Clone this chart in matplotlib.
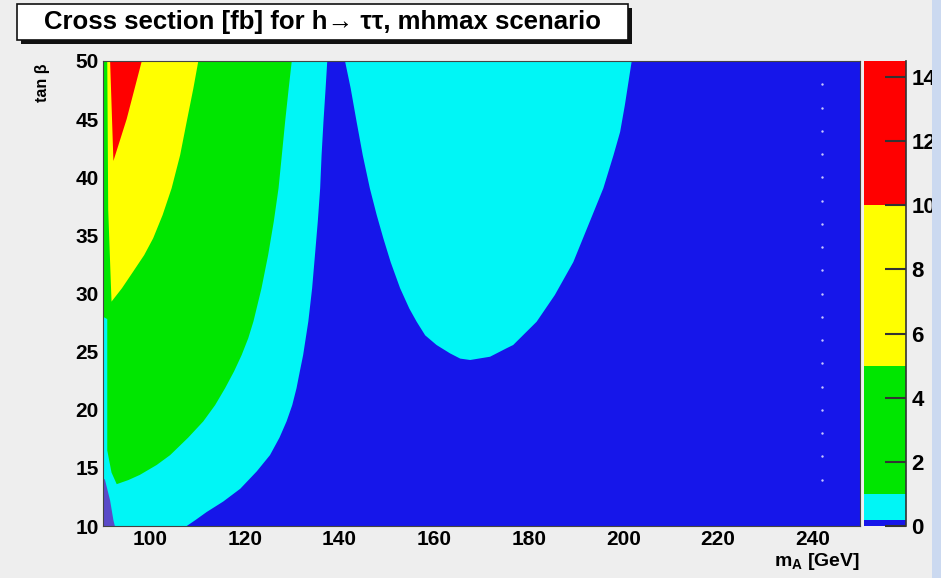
import matplotlib
matplotlib.use("Agg")
import matplotlib.pyplot as plt
from matplotlib.colors import ListedColormap, BoundaryNorm
from matplotlib.cm import ScalarMappable
from matplotlib.patches import Rectangle

plt.rcParams['font.family'] = ['Liberation Sans', 'DejaVu Sans']
plt.rcParams['font.weight'] = 'bold'
plt.rcParams['mathtext.fontset'] = 'custom'
plt.rcParams['mathtext.rm'] = 'Liberation Sans:bold'
plt.rcParams['mathtext.it'] = 'Liberation Sans:bold'
plt.rcParams['mathtext.bf'] = 'Liberation Sans:bold'

# contour levels of the cross section [fb] and the colour of each band
levels = [0, 0.2, 1, 5, 10, 14.5]
band_colors = ['#1616ea', '#00f6f6', '#00e600', '#ffff00', '#ff0000']
corner_color = '#5a4ac8'

# axis ranges and ticks
ma_range = (90, 250)
tb_range = (10, 50)
ma_ticks = [100, 120, 140, 160, 180, 200, 220, 240]
tb_ticks = [10, 15, 20, 25, 30, 35, 40, 45, 50]
cb_ticks = [0, 2, 4, 6, 8, 10, 12, 14]

# 1 fb contour of the low-mass band (tan beta, m_A), bottom to top
cyan_edge_tb = [10.0, 10.5, 11.2, 12.1, 13.2, 14.7, 16.1, 17.6, 19.0, 20.4, 21.85, 23.3,
                24.7, 27.6, 30.45, 33.3, 36.2, 39.05, 41.9, 44.8, 47.65, 50.0]
cyan_edge_ma = [107.7, 109.5, 111.9, 115.4, 119.0, 122.5, 125.3, 127.3, 128.8, 130.0, 130.9, 131.6,
                132.3, 133.4, 134.2, 134.8, 135.4, 135.9, 136.2, 136.6, 137.05, 137.4]

# 1 fb island at intermediate masses, left top -> minimum -> right top
island_tb = [50.0, 47.65, 44.78, 41.9, 39.05, 36.75, 34.75, 32.7, 30.45, 28.7, 27.57, 26.4,
             25.57, 24.85, 24.4, 24.28, 24.56, 25.29, 25.57, 27.57, 29.87, 32.7, 36.2, 39.05,
             41.9, 43.9, 46.2, 50.0]
island_ma = [141.15, 142.35, 143.6, 144.9, 146.4, 147.85, 149.25, 150.8, 152.8, 154.75, 156.3, 158.1,
             160.5, 163.35, 165.5, 167.6, 171.8, 175.3, 176.7, 181.65, 185.5, 189.4, 192.9, 195.75,
             197.9, 199.3, 200.3, 201.75]

# 5 fb band: right boundary (tip -> top) and left boundary (top -> tip)
green_right_tb = [13.6, 13.95, 14.4, 15.25, 16.1, 17.6, 19.0, 20.4, 21.85, 23.3, 24.7, 26.15,
                  27.6, 30.45, 33.3, 36.2, 39.05, 41.9, 44.8, 47.65, 50.0]
green_right_ma = [92.9, 95.35, 97.8, 101.35, 104.2, 108.0, 111.2, 113.7, 115.8, 117.7, 119.3, 120.7,
                  121.8, 123.5, 124.9, 126.1, 127.1, 127.8, 128.5, 129.25, 129.9]
green_left_tb = [50.0, 28.0, 27.8, 16.5, 14.6, 13.6]
green_left_ma = [90.0, 90.0, 90.9, 90.9, 91.8, 92.9]

# 10 fb band
yellow_right_tb = [29.3, 30.45, 31.9, 33.3, 34.75, 36.75, 39.05, 41.9, 44.8, 47.65, 50.0]
yellow_right_ma = [91.8, 94.0, 96.4, 98.7, 100.6, 102.6, 104.5, 106.3, 107.7, 109.1, 110.15]
yellow_left_tb = [50.0, 37.2, 29.3]
yellow_left_ma = [90.9, 91.1, 91.8]

# above 10 fb
red_right_tb = [41.4, 45.0, 50.0]
red_right_ma = [92.2, 95.0, 98.2]
red_left_tb = [50.0, 41.4]
red_left_ma = [91.5, 92.2]

# low corner below the lowest level
corner_tb = [10.0, 14.1, 14.0, 12.2, 10.5, 10.0]
corner_ma = [90.0, 90.0, 90.4, 91.5, 92.2, 92.5]

# isolated grid points along one mass column
dots_ma = 242.0
dots_tb = [14, 16, 18, 20, 22, 24, 26, 28, 30, 32, 34, 36, 38, 40, 42, 44, 46, 48]

W, H = 941, 578
fig = plt.figure(figsize=(W / 100, H / 100), dpi=100)
fig.patch.set_facecolor('#eeeeee')

ax = fig.add_axes([103 / W, 1 - 526 / H, 757 / W, 465 / H])
ax.set_xlim(*ma_range)
ax.set_ylim(*tb_range)

# background band, then each higher band painted on top
ax.fill([ma_range[0], ma_range[1], ma_range[1], ma_range[0]],
        [tb_range[0], tb_range[0], tb_range[1], tb_range[1]],
        color=band_colors[0], lw=0)
ax.fill([ma_range[0]] + cyan_edge_ma + [ma_range[0]],
        [tb_range[0]] + cyan_edge_tb + [tb_range[1]],
        color=band_colors[1], lw=0)
ax.fill(island_ma, island_tb, color=band_colors[1], lw=0)
ax.fill(green_right_ma + green_left_ma, green_right_tb + green_left_tb,
        color=band_colors[2], lw=0)
ax.fill(yellow_right_ma + yellow_left_ma, yellow_right_tb + yellow_left_tb,
        color=band_colors[3], lw=0)
ax.fill(red_right_ma + red_left_ma, red_right_tb + red_left_tb,
        color=band_colors[4], lw=0)
ax.fill(corner_ma, corner_tb, color=corner_color, lw=0)
ax.scatter([dots_ma] * len(dots_tb), dots_tb, s=3, color='#c8c8ff', lw=0, zorder=3)

ax.set_xticks(ma_ticks)
ax.set_yticks(tb_ticks)
ax.tick_params(length=0, labelsize=15, pad=3)
for lab in ax.get_xticklabels() + ax.get_yticklabels():
    lab.set_fontweight('bold')
for sp in ax.spines.values():
    sp.set_color('#444444')
    sp.set_linewidth(0.8)

# colour scale
cax = fig.add_axes([864 / W, 1 - 526 / H, 42 / W, 465 / H])
sm = ScalarMappable(norm=BoundaryNorm(levels, len(band_colors)),
                    cmap=ListedColormap(band_colors))
cb = fig.colorbar(sm, cax=cax, ticks=cb_ticks, spacing='proportional')
cb.minorticks_off()
cb.outline.set_visible(False)
cax.plot([1, 1], [0, 1], transform=cax.transAxes, color='#333333', lw=1.2, clip_on=False)
cax.tick_params(axis='y', which='major', direction='in', length=15, width=1.5,
                color='#333333', labelsize=16, pad=4)
for lab in cax.get_yticklabels():
    lab.set_fontweight('bold')

# pale window border on the right, drawn over the clipped scale labels
fig.add_artist(Rectangle((932 / W, 0), 9 / W, 1, transform=fig.transFigure,
                         facecolor='#cbd9f0', edgecolor='none', zorder=10))

# axis titles
fig.text(860 / W, 1 - 561 / H, r'$\mathrm{m_A}$ [GeV]', ha='right', va='center',
         fontsize=14, fontweight='bold')
fig.text(42 / W, 1 - 64 / H, 'tan β', rotation=90, ha='center', va='top',
         fontsize=11.5, fontweight='bold')

# title box with shadow
bx0, bx1, by0, by1 = 17, 628, 4, 40
fig.add_artist(Rectangle(((bx0 + 4) / W, 1 - (by1 + 4) / H), (bx1 - bx0) / W, (by1 - by0) / H,
                         transform=fig.transFigure, facecolor='#111111', edgecolor='none'))
fig.add_artist(Rectangle((bx0 / W, 1 - by1 / H), (bx1 - bx0) / W, (by1 - by0) / H,
                         transform=fig.transFigure, facecolor='white', edgecolor='#111111', lw=1.2))
fig.text((bx0 + bx1) / 2 / W, 1 - (by0 + by1) / 2 / H,
         'Cross section [fb] for h\u2192 \u03c4\u03c4, mhmax scenario',
         ha='center', va='center', fontsize=18.5, fontweight='bold')

fig.savefig('out.png', dpi=100, facecolor=fig.get_facecolor())
